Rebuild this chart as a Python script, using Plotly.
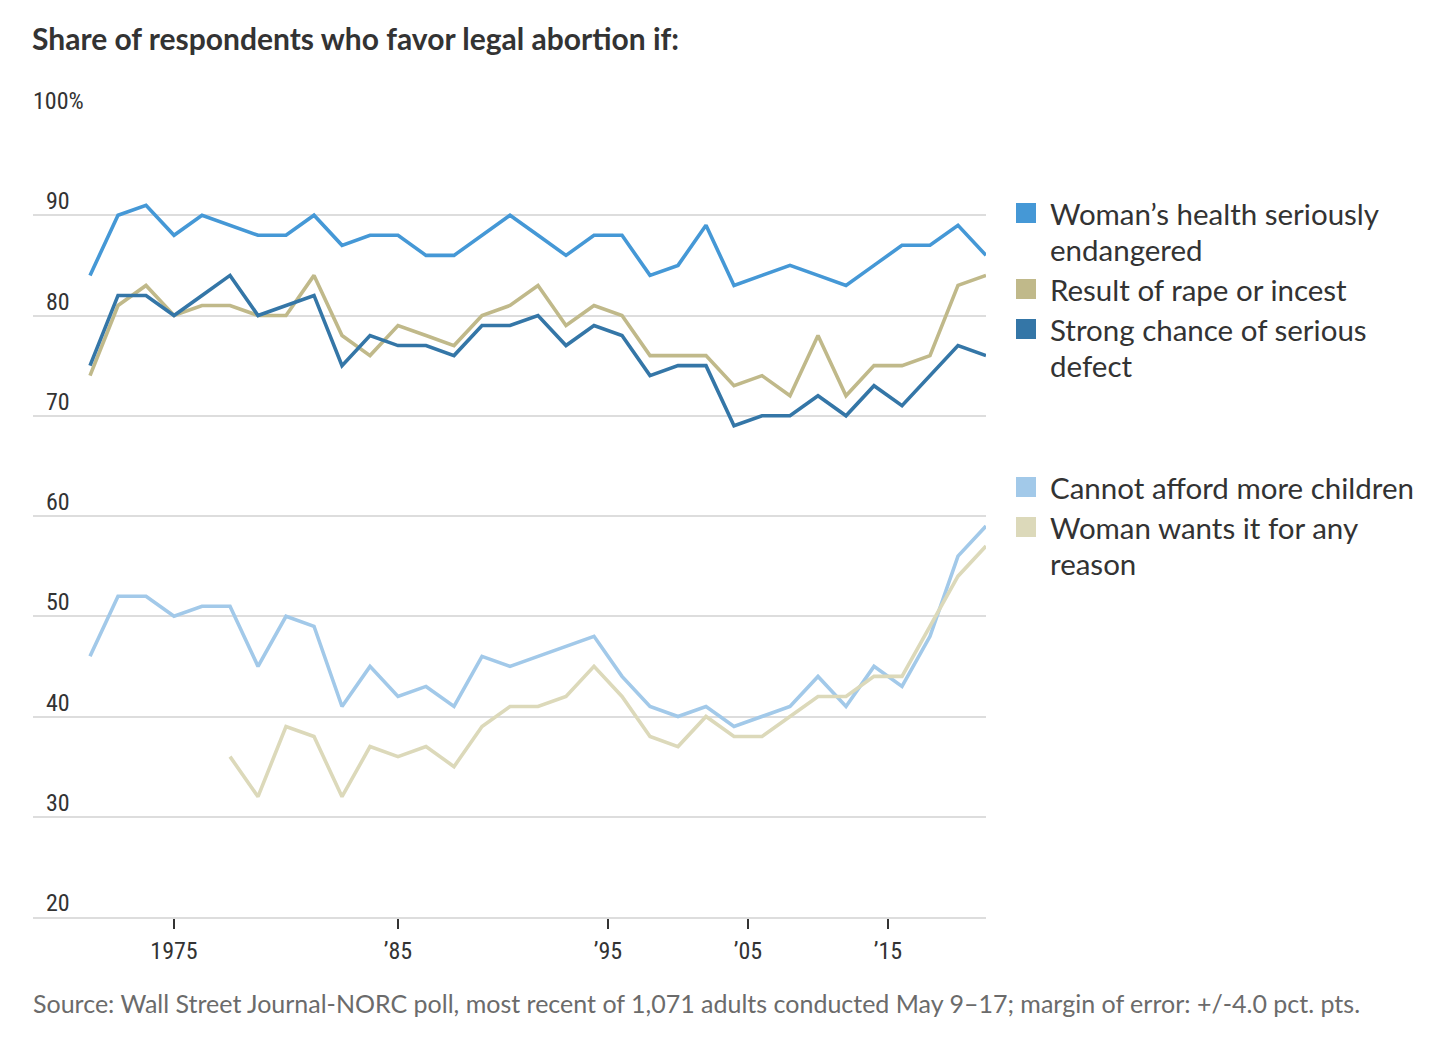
import numpy as np
import plotly.graph_objects as go

# ---------------- data ----------------
years = [1972, 1973, 1974, 1975, 1976, 1977, 1978, 1980, 1982, 1983, 1984, 1985,
         1987, 1988, 1989, 1990, 1991, 1993, 1994, 1996, 1998, 2000, 2002, 2004,
         2006, 2008, 2010, 2012, 2014, 2016, 2018, 2021, 2022]

health = [84, 90, 91, 88, 90, 89, 88, 88, 90, 87, 88, 88, 86, 86, 88, 90, 88,
          86, 88, 88, 84, 85, 89, 83, 84, 85, 84, 83, 85, 87, 87, 89, 86]
rape = [74, 81, 83, 80, 81, 81, 80, 80, 84, 78, 76, 79, 78, 77, 80, 81, 83,
        79, 81, 80, 76, 76, 76, 73, 74, 72, 78, 72, 75, 75, 76, 83, 84]
defect = [75, 82, 82, 80, 82, 84, 80, 81, 82, 75, 78, 77, 77, 76, 79, 79, 80,
          77, 79, 78, 74, 75, 75, 69, 70, 70, 72, 70, 73, 71, 74, 77, 76]
afford = [46, 52, 52, 50, 51, 51, 45, 50, 49, 41, 45, 42, 43, 41, 46, 45, 46,
          47, 48, 44, 41, 40, 41, 39, 40, 41, 44, 41, 45, 43, 48, 56, 59]
any_reason = [None, None, None, None, None, 36, 32, 39, 38, 32, 37, 36, 37, 35, 39, 41, 41,
              42, 45, 42, 38, 37, 40, 38, 38, 40, 42, 42, 44, 44, 49, 54, 57]

series_names = ["Woman’s health seriously<br>endangered",
                "Result of rape or incest",
                "Strong chance of serious<br>defect",
                "Cannot afford more children",
                "Woman wants it for any<br>reason"]
series_values = [health, rape, defect, afford, any_reason]
series_colors = ["#4598d6", "#c0b98a", "#3476a7", "#a2c9e9", "#dcd9ba"]

x_tick_years = [1975, 1985, 1995, 2005, 2015]
x_tick_text = ["1975", "’85", "’95", "’05", "’15"]
y_ticks = [20, 30, 40, 50, 60, 70, 80, 90, 100]

# ---------------- figure ----------------
OFF = 8                      # page body margin
W, H = 1450 - OFF, 1040 - OFF
L, R, T, B = 33 - OFF, 986 - OFF, 115 - OFF, 917 - OFF   # plot area (figure px)
idx = np.arange(len(years))
x_min = -2.036

fig = go.Figure()
for name, vals, col in zip(series_names, series_values, series_colors):
    fig.add_trace(go.Scatter(x=idx, y=vals, mode="lines", name=name.replace("<br>", " "),
                             line=dict(color=col, width=3.6),
                             connectgaps=False, showlegend=False))

tick_pos = np.interp(x_tick_years, years, idx)

num_font = "Liberation Sans Narrow, Roboto Condensed, DejaVu Sans Condensed, Lato, sans-serif"
text_font = "Lato, Noto Sans, sans-serif"

fig.update_layout(
    width=W, height=H,
    margin=dict(l=L, r=W - R, t=T, b=H - B, pad=0),
    paper_bgcolor="white", plot_bgcolor="white",
    title=dict(text="<b>Share of respondents who favor legal abortion if:</b>",
               xref="container", yref="container",
               x=(33 - OFF - 1) / W, xanchor="left", y=1 - (39 - OFF) / H, yanchor="middle",
               font=dict(family=text_font, size=30, color="#333333")),
    xaxis=dict(range=[x_min, len(years) - 1], tickmode="array",
               tickvals=tick_pos, ticktext=x_tick_text,
               ticks="outside", ticklen=10, tickwidth=2, tickcolor="#333333",
               showgrid=False, zeroline=False,
               showline=True, linecolor="#dddddd", linewidth=2,
               tickfont=dict(family=num_font, size=24, color="#333333"),
               ticklabelstandoff=1, fixedrange=True),
    yaxis=dict(range=[20, 100], tickmode="array", tickvals=y_ticks,
               showticklabels=False, ticks="",
               showgrid=True, gridcolor="#dddddd", gridwidth=2,
               zeroline=False, showline=False, fixedrange=True),
    showlegend=False,
)

# y tick labels above gridlines
for v in y_ticks:
    if v == 100:
        fig.add_annotation(x=0, xref="paper", y=v, yref="y", text=f"{v}%",
                           xanchor="left", yanchor="middle", xshift=-2, yshift=14,
                           showarrow=False,
                           font=dict(family=num_font, size=24, color="#333333"))
    else:
        fig.add_annotation(x=0, xref="paper", y=v, yref="y", text=str(v),
                           xanchor="right", yanchor="middle", xshift=39, yshift=14,
                           showarrow=False,
                           font=dict(family=num_font, size=24, color="#333333"))

# legend (custom)
def px_to_paper_x(px):
    return (px - OFF - L) / (R - L)

def px_to_paper_y(py):
    return (B - (py - OFF)) / (B - T)

legend_first_line = [213, 289, 329, 487, 527]
for name, col, py in zip(series_names, series_colors, legend_first_line):
    for k, line in enumerate(name.split("<br>")):
        fig.add_annotation(x=px_to_paper_x(1048), xref="paper",
                           y=px_to_paper_y(py + 36 * k), yref="paper",
                           text=line, align="left", xanchor="left", yanchor="middle",
                           showarrow=False,
                           font=dict(family=text_font, size=29.5, color="#333333"))
    fig.add_shape(type="rect", xref="paper", yref="paper",
                  x0=px_to_paper_x(1016), x1=px_to_paper_x(1036),
                  y0=px_to_paper_y(py + 10), y1=px_to_paper_y(py - 10),
                  fillcolor=col, line=dict(width=0))

# source
fig.add_annotation(x=0, xref="paper", y=px_to_paper_y(1003), yref="paper",
                   text="Source: Wall Street Journal-NORC poll, most recent of 1,071 adults conducted May 9–17; margin of error: +/-4.0 pct. pts.",
                   xanchor="left", yanchor="middle", xshift=-2, showarrow=False,
                   font=dict(family=text_font, size=25, color="#6b6b6b"))

fig.write_html("out.html")
